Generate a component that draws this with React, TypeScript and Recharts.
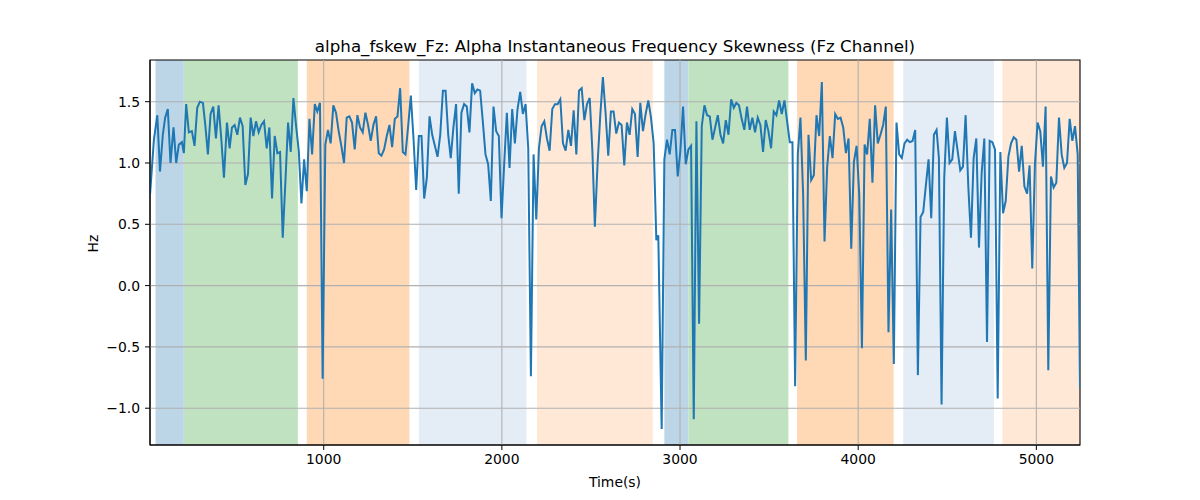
import { LineChart, Line, XAxis, YAxis, ReferenceArea, ReferenceLine } from 'recharts';

const times = [
  25, 47, 66, 81, 97, 110, 125, 140, 157, 172, 187, 204, 215, 228, 243, 260, 275, 290, 305, 322,
  336, 350, 365, 380, 395, 410, 425, 440, 457, 472, 485, 500, 515, 530, 545, 560, 575, 590, 605, 620,
  635, 650, 665, 680, 695, 710, 725, 740, 755, 770, 785, 800, 815, 830, 845, 860, 875, 890, 905, 920,
  935, 950, 964, 979, 994, 1009, 1024, 1039, 1054, 1069, 1084, 1099, 1114, 1129, 1144, 1159, 1174, 1189, 1204, 1219,
  1234, 1249, 1264, 1279, 1294, 1309, 1324, 1339, 1354, 1369, 1384, 1399, 1414, 1429, 1444, 1459, 1474, 1489, 1504, 1519,
  1534, 1549, 1564, 1579, 1594, 1609, 1624, 1639, 1654, 1669, 1684, 1699, 1713, 1728, 1743, 1758, 1773, 1788, 1803, 1818,
  1833, 1848, 1863, 1878, 1893, 1908, 1923, 1938, 1953, 1968, 1983, 1998, 2013, 2028, 2043, 2058, 2073, 2088, 2103, 2118,
  2133, 2148, 2163, 2178, 2193, 2208, 2223, 2238, 2253, 2268, 2283, 2298, 2313, 2328, 2343, 2358, 2373, 2388, 2403, 2418,
  2433, 2448, 2463, 2478, 2493, 2508, 2522, 2537, 2552, 2567, 2582, 2597, 2612, 2627, 2642, 2657, 2672, 2687, 2702, 2717,
  2732, 2747, 2762, 2777, 2792, 2807, 2822, 2837, 2852, 2867, 2878, 2897, 2912, 2927, 2942, 2957, 2972, 2987, 3002, 3017,
  3032, 3047, 3062, 3077, 3092, 3107, 3122, 3137, 3152, 3167, 3182, 3197, 3212, 3227, 3242, 3257, 3272, 3287, 3302, 3316,
  3331, 3346, 3361, 3376, 3391, 3406, 3421, 3436, 3451, 3466, 3481, 3496, 3511, 3526, 3541, 3556, 3571, 3586, 3601, 3616,
  3631, 3646, 3661, 3676, 3691, 3706, 3721, 3736, 3751, 3766, 3781, 3796, 3811, 3826, 3841, 3856, 3871, 3886, 3901, 3916,
  3931, 3946, 3961, 3976, 3991, 4006, 4021, 4036, 4050, 4065, 4080, 4095, 4110, 4125, 4140, 4155, 4170, 4185, 4200, 4215,
  4230, 4245, 4260, 4275, 4290, 4305, 4320, 4335, 4350, 4365, 4380, 4395, 4410, 4425, 4440, 4453, 4468, 4483, 4498, 4513,
  4528, 4543, 4558, 4573, 4588, 4603, 4618, 4633, 4648, 4663, 4678, 4693, 4708, 4723, 4738, 4753, 4768, 4783, 4798, 4813,
  4828, 4843, 4858, 4873, 4888, 4903, 4918, 4933, 4948, 4962, 4977, 4992, 5007, 5022, 5037, 5052, 5067, 5082, 5097, 5112,
  5127, 5142, 5157, 5172, 5187, 5202, 5217, 5232, 5245,
];

const skewHz = [
  0.74, 1.19, 1.39, 0.93, 1.23, 1.37, 1.44, 1.0, 1.29, 1.0, 1.15, 1.17, 1.08, 1.48, 1.25, 1.26, 1.14, 1.45, 1.5, 1.49,
  1.3, 1.07, 1.4, 1.46, 1.2, 1.47, 1.2, 0.88, 1.33, 1.12, 1.29, 1.31, 1.23, 1.37, 1.3, 0.82, 0.91, 1.37, 1.22, 1.34,
  1.25, 1.31, 1.34, 1.12, 1.29, 0.71, 1.22, 1.08, 1.09, 0.39, 0.85, 1.33, 1.09, 1.53, 1.3, 1.1, 0.67, 1.03, 0.77, 1.36,
  1.07, 1.48, 1.42, 1.49, -0.76, 1.15, 1.27, 1.16, 1.47, 1.41, 1.26, 1.14, 1.0, 1.37, 1.38, 1.33, 1.11, 1.39, 1.29, 1.25,
  1.41, 1.31, 1.18, 1.31, 1.38, 1.08, 1.06, 1.11, 1.22, 1.31, 1.13, 1.36, 1.38, 1.61, 1.09, 1.07, 1.3, 1.55, 1.2, 0.78,
  1.22, 1.22, 0.71, 0.88, 1.38, 1.23, 1.14, 1.05, 1.23, 1.59, 1.59, 1.23, 1.04, 1.29, 1.48, 0.75, 1.41, 1.48, 1.46, 1.25,
  1.65, 1.57, 1.6, 1.59, 1.34, 1.07, 0.99, 0.69, 1.46, 1.26, 1.22, 0.55, 0.99, 1.41, 0.96, 1.44, 1.16, 1.44, 1.58, 1.4,
  1.48, 1.12, -0.74, 1.07, 0.54, 1.12, 1.3, 1.34, 1.2, 1.1, 1.44, 1.48, 1.48, 1.52, 1.16, 1.1, 1.27, 1.14, 1.43, 1.07,
  1.59, 1.61, 1.35, 1.48, 1.53, 1.1, 0.48, 0.99, 1.38, 1.7, 1.41, 1.06, 1.42, 1.42, 1.24, 1.33, 1.31, 0.98, 1.33, 1.23,
  1.44, 1.4, 1.05, 1.49, 1.26, 1.4, 1.51, 1.37, 1.16, 0.37, 0.41, -1.17, 1.03, 1.19, 1.07, 1.27, 1.27, 0.89, 1.1, 1.46,
  0.99, 1.11, 1.14, -1.09, 1.34, -0.31, 1.3, 1.47, 1.39, 1.38, 1.19, 1.29, 1.39, 1.23, 1.16, 1.35, 1.23, 1.52, 1.45, 1.49,
  1.47, 1.36, 1.27, 1.46, 1.27, 1.37, 1.25, 1.37, 1.31, 1.09, 1.35, 1.26, 1.12, 1.42, 1.39, 1.51, 1.4, 1.51, 1.34, 1.17,
  1.17, -0.82, 1.07, 1.37, 0.74, -0.61, 1.23, 0.86, 0.9, 1.39, 1.22, 1.66, 0.36, 0.97, 1.22, 1.04, 1.4, 1.36, 1.37, 1.29,
  1.08, 1.2, 0.3, 1.01, 1.14, 0.74, -0.51, 1.15, 1.07, 1.36, 0.84, 1.47, 1.16, 1.23, 1.31, 1.46, -0.38, 0.62, -0.64, 1.33,
  1.07, 1.04, 1.16, 1.19, 1.17, 1.18, 1.27, -0.73, 0.56, 0.6, 0.82, 1.03, 0.55, 1.23, 1.27, 1.04, -0.97, 0.88, 1.37, 1.0,
  1.03, 1.26, 1.1, 0.94, 0.97, 1.39, 0.81, 0.39, 1.04, 1.2, 0.31, 0.92, 1.2, -0.46, 1.18, 1.17, 1.11, -0.92, 1.09, 0.59,
  0.69, 1.05, 1.16, 1.21, 1.19, 0.93, 1.14, 0.81, 0.75, 0.98, 0.14, 0.99, 1.33, 1.26, 0.97, 1.46, -0.69, 0.89, 0.8, 0.84,
  1.37, 1.07, 0.96, 1.0, 1.36, 1.18, 1.3, 1.07, -0.84,
];

// shaded segments: start, end, kind
const spanStarts = [56, 215, 905, 1534, 2197, 2912, 3047, 3657, 4253, 4809];
const spanEnds = [215, 855, 1481, 2138, 2847, 3047, 3608, 4199, 4762, 5245];
const spanKinds = ['blue', 'green', 'orange', 'lightblue', 'lightorange', 'blue', 'green', 'orange', 'lightblue', 'lightorange'];

const xTicks = [1000, 2000, 3000, 4000, 5000];
const yTicks = [-1.0, -0.5, 0.0, 0.5, 1.0, 1.5];

const spanColors: Record<string, string> = {
  blue: '#bcd6e8',
  green: '#c0e2c0',
  orange: '#ffd8b6',
  lightblue: '#e4ecf6',
  lightorange: '#ffe9d6',
};

const data = times.map((t, i) => ({ t, v: skewHz[i] }));

const X_MIN = 25;
const X_MAX = 5245;
const Y_MIN = -1.3;
const Y_MAX = 1.84;

const font = '"DejaVu Sans", sans-serif';
const fmtY = (v: number) => v.toFixed(1).replace('-', '\u2212');

export default function App() {
  return (
    <div style={{ position: 'relative', width: 1200, height: 500, fontFamily: font }}>
      <style>{'body { margin: 0; }'}</style>
      <div
        style={{
          position: 'absolute',
          left: 150,
          width: 930,
          top: 36,
          textAlign: 'center',
          fontSize: 16.7,
          color: '#000',
        }}
      >
        alpha_fskew_Fz: Alpha Instantaneous Frequency Skewness (Fz Channel)
      </div>
      <LineChart width={1200} height={500} data={data} margin={{ top: 60, right: 120, bottom: 0, left: 0 }}>
        <XAxis
          type="number"
          dataKey="t"
          domain={[X_MIN, X_MAX]}
          ticks={xTicks}
          allowDataOverflow
          height={55}
          tickSize={5}
          tickMargin={4}
          stroke="#000"
          tick={{ fill: '#000', fontSize: 13.9, fontFamily: font }}
          label={{ value: 'Time(s)', position: 'insideBottom', offset: 13, fill: '#000', fontSize: 13.9, fontFamily: font }}
        />
        <YAxis
          type="number"
          domain={[Y_MIN, Y_MAX]}
          ticks={yTicks}
          allowDataOverflow
          width={150}
          tickSize={5}
          tickMargin={5}
          stroke="#000"
          tickFormatter={fmtY}
          tick={{ fill: '#000', fontSize: 13.9, fontFamily: font }}
          label={{ value: 'Hz', angle: -90, position: 'insideLeft', offset: 93, fill: '#000', fontSize: 13.9, fontFamily: font }}
        />
        {spanStarts.map((s, i) => (
          <ReferenceArea
            key={'span' + i}
            x1={s}
            x2={spanEnds[i]}
            y1={Y_MIN}
            y2={Y_MAX}
            fill={spanColors[spanKinds[i]]}
            fillOpacity={1}
            stroke="none"
            ifOverflow="hidden"
          />
        ))}
        {xTicks.map((t) => (
          <ReferenceLine key={'gx' + t} x={t} stroke="#b0b0b0" strokeWidth={1.1} />
        ))}
        {yTicks.map((t) => (
          <ReferenceLine key={'gy' + t} y={t} stroke="#b0b0b0" strokeWidth={1.1} />
        ))}
        <Line
          type="linear"
          dataKey="v"
          stroke="#1f77b4"
          strokeWidth={2}
          dot={false}
          activeDot={false}
          isAnimationActive={false}
        />
        <ReferenceArea x1={X_MIN} x2={X_MAX} y1={Y_MIN} y2={Y_MAX} fill="none" stroke="#000" strokeWidth={1.1} />
      </LineChart>
    </div>
  );
}
